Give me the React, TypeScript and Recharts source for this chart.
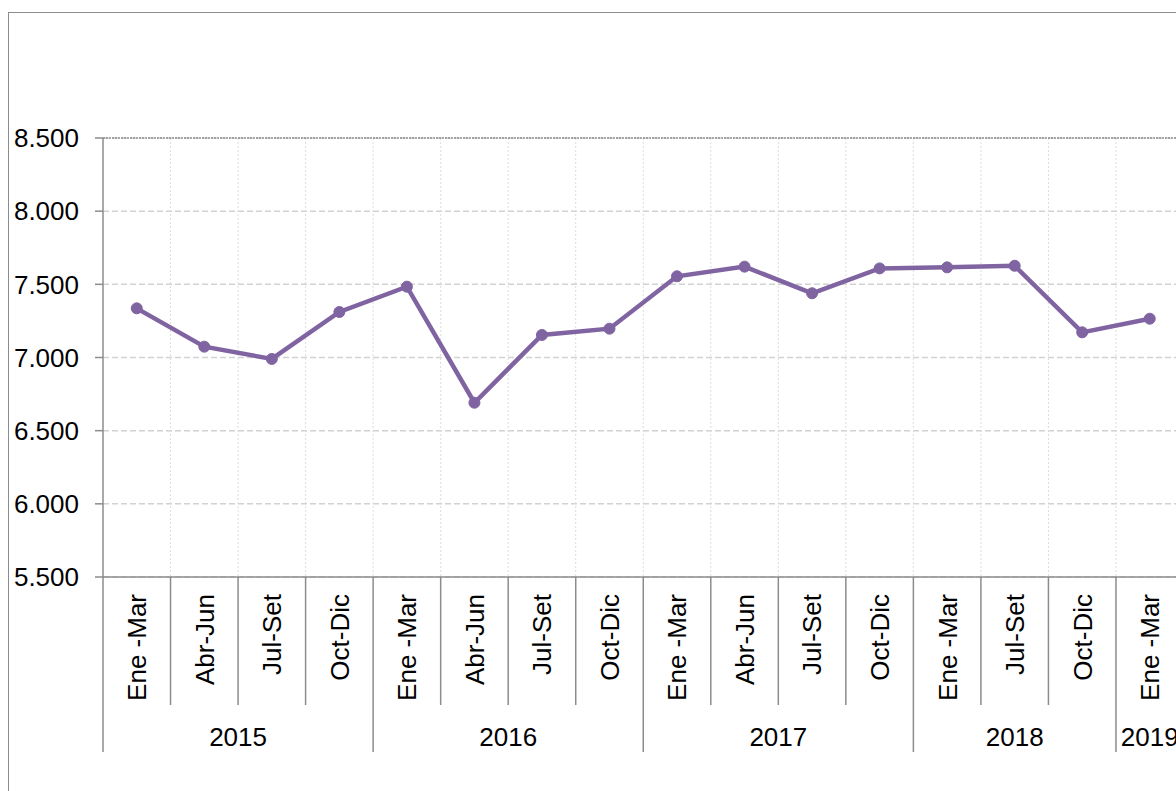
import {
  LineChart,
  Line,
  XAxis,
  YAxis,
  CartesianGrid,
  ReferenceLine,
} from "recharts";

const quarters = [
  "Ene -Mar", "Abr-Jun", "Jul-Set", "Oct-Dic",
  "Ene -Mar", "Abr-Jun", "Jul-Set", "Oct-Dic",
  "Ene -Mar", "Abr-Jun", "Jul-Set", "Oct-Dic",
  "Ene -Mar", "Jul-Set", "Oct-Dic",
  "Ene -Mar",
];
const years = [
  "2015", "2015", "2015", "2015",
  "2016", "2016", "2016", "2016",
  "2017", "2017", "2017", "2017",
  "2018", "2018", "2018",
  "2019",
];
const values = [
  7336, 7074, 6990, 7311, 7484, 6691, 7154, 7197,
  7555, 7621, 7439, 7609, 7616, 7627, 7172, 7265,
];
const yTicks = [5500, 6000, 6500, 7000, 7500, 8000, 8500];

const data = quarters.map((q, i) => ({ q, year: years[i], value: values[i] }));

const FONT = "'Liberation Sans', Arial, sans-serif";
const AXIS = "#8c8c8c";
const CHART_W = 1200;
const PLOT_W = 1080.5;
const HALF = PLOT_W / quarters.length / 2;

const fmt = (v: number) => v.toLocaleString("de-DE");

function QuarterTick(props: any) {
  const { x, y, payload, index } = props;
  const left = x - HALF;
  const firstOfYear = index === 0 || years[index] !== years[index - 1];
  let groupSize = 0;
  if (firstOfYear) {
    for (let j = index; j < years.length && years[j] === years[index]; j++) groupSize++;
  }
  return (
    <g>
      <line
        x1={left}
        x2={left}
        y1={y}
        y2={y + (firstOfYear ? 175 : 128)}
        stroke={AXIS}
        strokeWidth={1.5}
      />
      <text
        x={x}
        y={y + 17}
        transform={`rotate(-90 ${x} ${y + 17})`}
        textAnchor="end"
        dy="0.36em"
        fontSize={26}
        fill="#000"
        fontFamily={FONT}
      >
        {payload.value}
      </text>
      {firstOfYear && (
        <text
          x={left + groupSize * HALF}
          y={y + 169}
          textAnchor="middle"
          fontSize={26}
          fill="#000"
          fontFamily={FONT}
        >
          {years[index]}
        </text>
      )}
    </g>
  );
}

export default function App() {
  return (
    <div
      style={{
        position: "fixed",
        left: 0,
        top: 0,
        width: 1176,
        height: 791,
        overflow: "hidden",
        background: "#fff",
      }}
    >
      <div
        style={{
          position: "absolute",
          left: 8,
          top: 12,
          width: 1400,
          height: 1000,
          border: `1.5px solid ${AXIS}`,
        }}
      />
      <div style={{ position: "absolute", left: 0, top: 0 }}>
        <LineChart
          width={CHART_W}
          height={791}
          data={data}
          margin={{ top: 138, right: CHART_W - 103 - PLOT_W, left: 0, bottom: 39 }}
        >
          <CartesianGrid
            vertical={false}
            stroke="#d2d2d2"
            strokeWidth={1.5}
            strokeDasharray="6 3"
          />
          <CartesianGrid
            horizontal={false}
            stroke="#dcdcdc"
            strokeWidth={1}
            strokeDasharray="2 2"
            verticalCoordinatesGenerator={({ offset }: any) =>
              quarters
                .map((_, i) => offset.left + (i * offset.width) / quarters.length)
                .slice(1)
            }
          />
          <XAxis
            dataKey="q"
            interval={0}
            padding={{ left: HALF, right: HALF }}
            height={175}
            tickSize={0}
            tickMargin={0}
            tickLine={false}
            axisLine={{ stroke: AXIS, strokeWidth: 1.5 }}
            tick={<QuarterTick />}
          />
          <YAxis
            domain={[5500, 8500]}
            ticks={yTicks}
            width={103}
            tickSize={8}
            tickMargin={16}
            tickFormatter={fmt}
            axisLine={{ stroke: AXIS, strokeWidth: 1.5 }}
            tickLine={{ stroke: AXIS, strokeWidth: 1.5 }}
            tick={{ fontSize: 26, fill: "#000", fontFamily: FONT }}
          />
          <ReferenceLine
            y={8500}
            stroke="#8c8c8c"
            strokeWidth={1.5}
            strokeDasharray="2 1"
          />
          <Line
            dataKey="value"
            stroke="#8064A2"
            strokeWidth={4.5}
            dot={{ r: 5.5, fill: "#8064A2", stroke: "#8064A2", strokeWidth: 1 }}
            isAnimationActive={false}
          />
        </LineChart>
      </div>
    </div>
  );
}
